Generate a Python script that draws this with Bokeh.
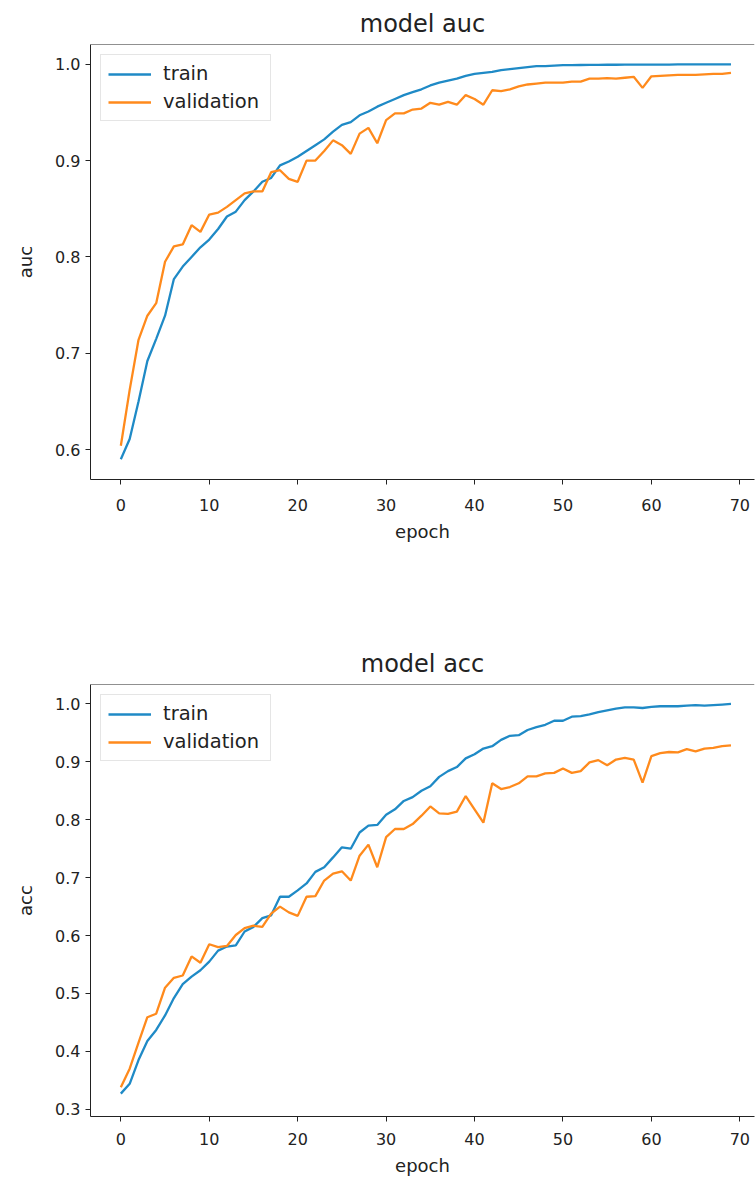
from bokeh.plotting import figure
from bokeh.models import Range1d, FixedTicker, PrintfTickFormatter, Span, Legend, LegendItem
from bokeh.layouts import column
from bokeh.embed import file_html
from bokeh.resources import INLINE

epochs = list(range(70))

train_auc = [0.590, 0.611, 0.650, 0.692, 0.715, 0.739, 0.777, 0.790, 0.800, 0.810,
             0.818, 0.829, 0.842, 0.847, 0.859, 0.868, 0.878, 0.882, 0.895, 0.899,
             0.904, 0.910, 0.916, 0.922, 0.930, 0.937, 0.940, 0.947, 0.951, 0.956,
             0.960, 0.964, 0.968, 0.971, 0.974, 0.978, 0.981, 0.983, 0.985, 0.988,
             0.990, 0.991, 0.992, 0.994, 0.995, 0.996, 0.997, 0.998, 0.998, 0.9985,
             0.999, 0.999, 0.9992, 0.9993, 0.9994, 0.9995, 0.9995, 0.9996, 0.9996, 0.9996,
             0.9997, 0.9997, 0.9997, 0.9998, 0.9998, 0.9998, 0.9998, 0.9999, 0.9999, 0.9999]

val_auc = [0.604, 0.662, 0.714, 0.739, 0.752, 0.795, 0.811, 0.813, 0.833, 0.826,
           0.844, 0.846, 0.852, 0.859, 0.866, 0.868, 0.868, 0.888, 0.890, 0.881,
           0.878, 0.900, 0.900, 0.910, 0.921, 0.916, 0.907, 0.928, 0.934, 0.918,
           0.942, 0.949, 0.949, 0.953, 0.954, 0.960, 0.958, 0.961, 0.958, 0.968,
           0.964, 0.958, 0.973, 0.972, 0.974, 0.977, 0.979, 0.980, 0.981, 0.981,
           0.981, 0.982, 0.982, 0.985, 0.985, 0.9855, 0.985, 0.986, 0.987, 0.9755,
           0.9875, 0.988, 0.9885, 0.989, 0.989, 0.989, 0.9895, 0.990, 0.990, 0.991]

train_acc = [0.327, 0.344, 0.385, 0.418, 0.437, 0.462, 0.492, 0.516, 0.529, 0.540,
             0.555, 0.574, 0.581, 0.583, 0.607, 0.615, 0.630, 0.635, 0.667, 0.667,
             0.678, 0.690, 0.710, 0.718, 0.735, 0.7525, 0.750, 0.778, 0.790, 0.791,
             0.8085, 0.818, 0.8325, 0.839, 0.850, 0.858, 0.874, 0.884, 0.891, 0.906,
             0.913, 0.923, 0.927, 0.938, 0.945, 0.946, 0.955, 0.960, 0.964, 0.971,
             0.971, 0.978, 0.979, 0.982, 0.986, 0.989, 0.992, 0.994, 0.994, 0.993,
             0.995, 0.996, 0.996, 0.996, 0.997, 0.998, 0.997, 0.998, 0.999, 1.000]

val_acc = [0.338, 0.370, 0.415, 0.459, 0.465, 0.510, 0.527, 0.531, 0.564, 0.553,
           0.585, 0.580, 0.582, 0.601, 0.613, 0.617, 0.615, 0.638, 0.650, 0.640,
           0.634, 0.667, 0.668, 0.695, 0.707, 0.711, 0.695, 0.738, 0.757, 0.718,
           0.770, 0.784, 0.784, 0.7925, 0.807, 0.823, 0.811, 0.810, 0.814, 0.841,
           0.818, 0.795, 0.863, 0.853, 0.8565, 0.863, 0.875, 0.875, 0.880, 0.881,
           0.8886, 0.881, 0.884, 0.899, 0.903, 0.894, 0.904, 0.907, 0.904, 0.864,
           0.910, 0.915, 0.917, 0.9165, 0.922, 0.918, 0.923, 0.924, 0.927, 0.9285]

x_ticks = [0, 10, 20, 30, 40, 50, 60, 70]
auc_ticks = [0.6, 0.7, 0.8, 0.9, 1.0]
acc_ticks = [0.3, 0.4, 0.5, 0.6, 0.7, 0.8, 0.9, 1.0]

FONT = "DejaVu Sans"
BLUE = "#1f8ac6"
ORANGE = "#ff8a1c"
INK = "#222222"


def make(title, ylabel, train, val, yr, yticks, height, border_bottom, xstand, xlabstand):
    p = figure(width=756, height=height, output_backend="svg", toolbar_location=None,
               x_range=Range1d(-3.43, 71.66), y_range=Range1d(yr[0], yr[1]),
               min_border_left=90, min_border_right=2, min_border_top=43,
               min_border_bottom=border_bottom)
    p.outline_line_color = None
    p.xgrid.visible = False
    p.ygrid.visible = False
    p.background_fill_color = "white"

    p.title.text = title
    p.title.align = "center"
    p.title.offset = 3
    p.title.text_font = FONT
    p.title.text_font_size = "24px"
    p.title.text_font_style = "normal"
    p.title.text_color = INK
    p.title.standoff = 14

    for ax in (p.xaxis[0], p.yaxis[0]):
        ax.axis_line_color = INK
        ax.axis_line_width = 1
        ax.major_tick_line_color = INK
        ax.major_tick_out = 5
        ax.major_tick_in = 0
        ax.minor_tick_line_color = None
        ax.major_label_text_font = FONT
        ax.major_label_text_font_size = "16px"
        ax.major_label_text_color = INK
        ax.axis_label_text_font = FONT
        ax.axis_label_text_font_size = "18px"
        ax.axis_label_text_font_style = "normal"
        ax.axis_label_text_color = INK

    p.xaxis.ticker = FixedTicker(ticks=x_ticks)
    p.xaxis.axis_label = "epoch"
    p.xaxis.major_label_standoff = xstand
    p.xaxis.axis_label_standoff = xlabstand

    p.yaxis.ticker = FixedTicker(ticks=yticks)
    p.yaxis.formatter = PrintfTickFormatter(format="%.1f")
    p.yaxis.axis_label = ylabel
    p.yaxis.major_label_standoff = 5
    p.yaxis.axis_label_standoff = 16

    p.add_layout(Span(location=yr[1], dimension="width", line_color=INK, line_width=1))

    r1 = p.line(epochs, train, line_color=BLUE, line_width=2.3)
    r2 = p.line(epochs, val, line_color=ORANGE, line_width=2.3)

    legend = Legend(items=[LegendItem(label="train", renderers=[r1]),
                           LegendItem(label="validation", renderers=[r2])],
                    location="top_left", margin=10, padding=7, spacing=5,
                    glyph_width=43, glyph_height=20, label_height=20, label_width=100,
                    label_standoff=12, label_text_font=FONT, label_text_font_size="19.5px",
                    label_text_color=INK, border_line_color="#cccccc",
                    background_fill_color="white", background_fill_alpha=0.8)
    p.add_layout(legend)
    return p


p1 = make("model auc", "auc", train_auc, val_auc, (0.569, 1.0205), auc_ticks, 640, 161, 14, 7)
p2 = make("model acc", "acc", train_acc, val_acc, (0.2875, 1.0336), acc_ticks, 538, 60, 11, 7)

layout = column(p1, p2, spacing=0)
open("out.html", "w").write(file_html(layout, INLINE))
